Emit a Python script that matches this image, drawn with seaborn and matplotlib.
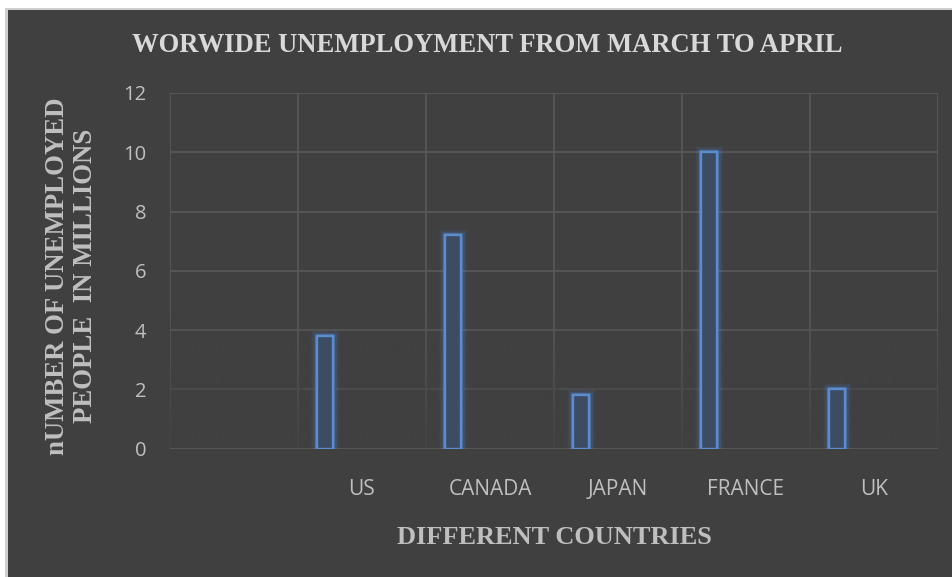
import numpy as np
import pandas as pd
import matplotlib
matplotlib.use("Agg")
import matplotlib.pyplot as plt
import matplotlib.patheffects as pe
from matplotlib.patches import Rectangle
import seaborn as sns

# Chart data
countries = ["US", "CANADA", "JAPAN", "FRANCE", "UK"]
unemployed_millions = [3.8, 7.2, 1.8, 10.0, 2.0]
y_ticks = [0, 2, 4, 6, 8, 10, 12]

title = "WORWIDE UNEMPLOYMENT FROM MARCH TO APRIL"
x_title = "DIFFERENT COUNTRIES"
y_title = "nUMBER OF UNEMPLOYED\nPEOPLE  IN MILLIONS"

# Styling
BG = "#404040"
GRID = "#585858"
TXT = "#bfbfbf"
EDGE = "#5a8dd0"
FILL = "#3b4c63"

sns.set_theme(style="dark")
serif = ["Liberation Serif", "DejaVu Serif"]
sans = ["Open Sans", "DejaVu Sans"]

fig = plt.figure(figsize=(9.52, 5.77), dpi=100, facecolor="white")
# dark chart panel with a thin light frame on the left and top
fig.patches.append(Rectangle((5 / 952, 0), 1, 1 - 8 / 577, transform=fig.transFigure,
                             facecolor="#cfcfcf", edgecolor="none", zorder=-20))
fig.patches.append(Rectangle((8 / 952, 0), 1, 1 - 10 / 577, transform=fig.transFigure,
                             facecolor=BG, edgecolor="none", zorder=-10))

ax = fig.add_axes([170 / 952, 1 - 448.5 / 577, (938 - 170) / 952, (448.5 - 93) / 577])
ax.set_facecolor(BG)

# one empty slot precedes the countries; bars sit left of each slot centre
n_slots = len(countries) + 1
slot_idx = np.arange(1, n_slots)
bar_offset = -0.29
df = pd.DataFrame({"pos": slot_idx + bar_offset, "value": unemployed_millions})

sns.barplot(data=df, x="pos", y="value", native_scale=True, width=0.125,
            color=FILL, edgecolor=EDGE, linewidth=1.7, saturation=1, ax=ax, zorder=3)
glow = [pe.withStroke(linewidth=w, foreground=(0.33, 0.55, 0.88, a))
        for w, a in [(9, 0.06), (7, 0.08), (5, 0.12)]]
for p in ax.patches:
    p.set_facecolor(FILL)
    p.set_path_effects(glow + [pe.Normal()])

# grid: horizontal at y ticks, vertical at slot boundaries
ax.set_yticks(y_ticks)
ax.set_yticklabels([str(v) for v in y_ticks], fontfamily=sans, fontsize=14.5, color=TXT)
ax.set_xticks(slot_idx)
ax.set_xticklabels(countries, fontfamily=sans, fontsize=15, color=TXT)
ax.tick_params(axis="both", which="both", length=0)
ax.tick_params(axis="y", pad=17)
ax.tick_params(axis="x", pad=22)
ax.grid(False)
for y in y_ticks:
    ax.axhline(y, color=GRID, lw=1.3, zorder=1)
for x in np.arange(-0.5, n_slots, 1.0):
    ax.axvline(x, color=GRID, lw=1.3, zorder=1)

# grid fades towards the baseline
grad = np.zeros((256, 1, 4))
grad[..., :3] = matplotlib.colors.to_rgb(BG)
alpha = np.clip((4.6 - np.linspace(0, 12, 256)) / 4.6, 0, 1) * 0.85
grad[:, 0, 3] = alpha
ax.imshow(grad, extent=(-0.5, n_slots - 0.5, 0, 12), origin="lower", aspect="auto",
          zorder=2, interpolation="bilinear")
ax.set_xlim(-0.5, n_slots - 0.5)
ax.set_ylim(0, 12)

for s in ax.spines.values():
    s.set_visible(False)

ax.set_xlabel(x_title, fontfamily=serif, fontweight="bold", fontsize=19, color=TXT, va="center")
ax.xaxis.set_label_coords(0.5, -0.249)
ax.set_ylabel(y_title, fontfamily=serif, fontweight="bold", fontsize=19.3, color=TXT,
              linespacing=1.15, va="center", ha="center")
ax.yaxis.set_label_coords(-0.128, 0.485)
fig.text(487 / 952, 1 - 45 / 577, title, fontfamily=serif, fontweight="bold", fontsize=19.2,
         color="#d9d9d9", ha="center", va="center")

fig.savefig("out.png", dpi=100, facecolor=fig.get_facecolor())
